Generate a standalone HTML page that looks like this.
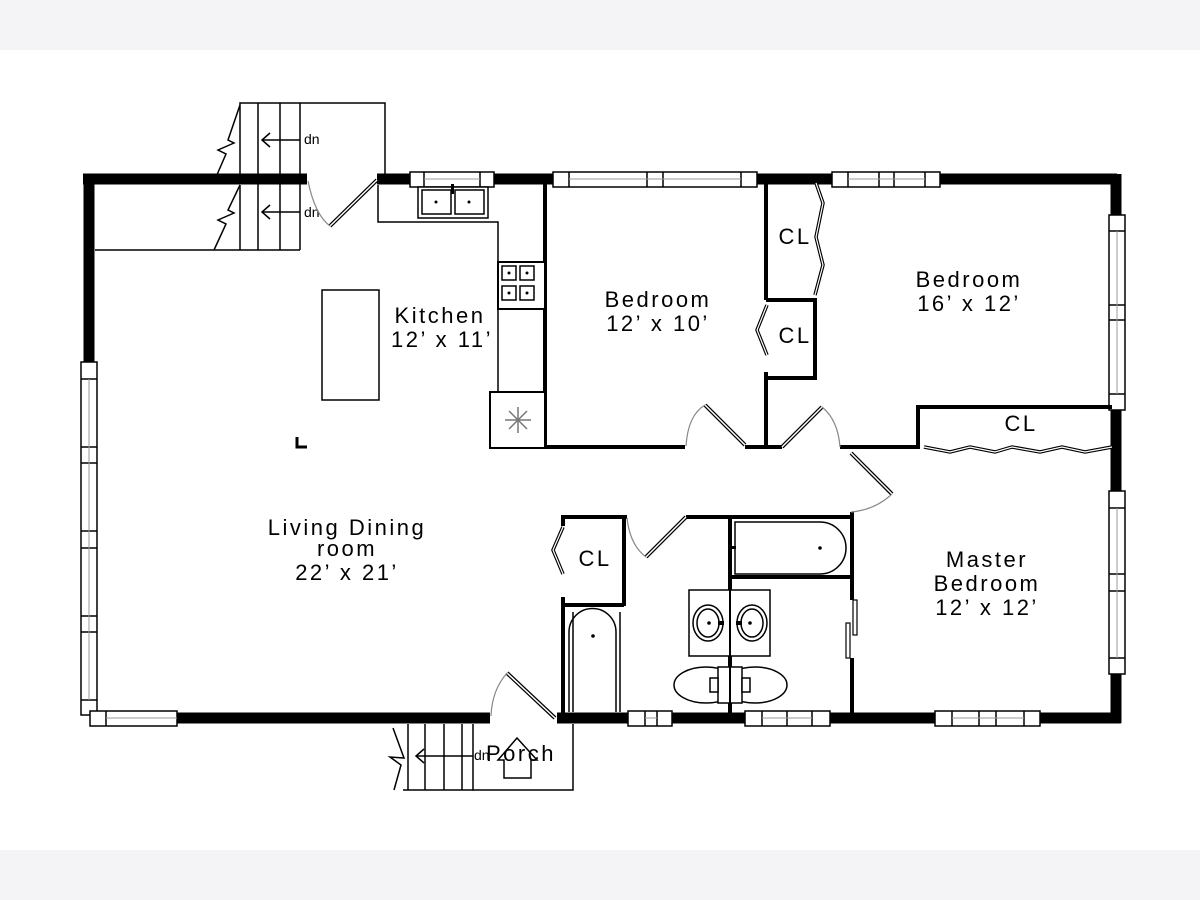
<!DOCTYPE html>
<html><head><meta charset="utf-8"><style>
html,body{margin:0;padding:0;width:1200px;height:900px;overflow:hidden;background:#fff}
svg{display:block}
text{font-family:"Liberation Sans","DejaVu Sans",sans-serif;fill:#000}
.lbl{font-size:22px;letter-spacing:2.5px}
</style></head><body>
<svg width="1200" height="900" viewBox="0 0 1200 900" xmlns="http://www.w3.org/2000/svg">
<rect x="0" y="0" width="1200" height="50" fill="#f4f4f6"/>
<rect x="0" y="850" width="1200" height="50" fill="#f4f4f6"/>

<g stroke="#000" stroke-width="11" fill="none" stroke-linecap="butt">
<line x1="83" y1="179" x2="307" y2="179"/>
<line x1="377" y1="179" x2="410" y2="179"/>
<line x1="494" y1="179" x2="553" y2="179"/>
<line x1="757" y1="179" x2="832" y2="179"/>
<line x1="940" y1="179" x2="1117" y2="179"/>
<line x1="1116" y1="174" x2="1116" y2="215"/>
<line x1="1116" y1="410" x2="1116" y2="491"/>
<line x1="1116" y1="674" x2="1116" y2="723"/>
<line x1="89" y1="174" x2="89" y2="362"/>
<line x1="177" y1="718" x2="490" y2="718"/>
<line x1="557" y1="718" x2="628" y2="718"/>
<line x1="672" y1="718" x2="745" y2="718"/>
<line x1="830" y1="718" x2="935" y2="718"/>
<line x1="1040" y1="718" x2="1121" y2="718"/>
</g>

<g stroke="#000" stroke-width="1.5" fill="#fff">
<rect x="410" y="172" width="84" height="15"/>
<line x1="424" y1="172" x2="424" y2="187"/><line x1="480" y1="172" x2="480" y2="187"/>
<rect x="553" y="172" width="204" height="15"/>
<line x1="569" y1="172" x2="569" y2="187"/><line x1="647" y1="172" x2="647" y2="187"/><line x1="663" y1="172" x2="663" y2="187"/><line x1="741" y1="172" x2="741" y2="187"/>
<rect x="832" y="172" width="108" height="15"/>
<line x1="848" y1="172" x2="848" y2="187"/><line x1="879" y1="172" x2="879" y2="187"/><line x1="894" y1="172" x2="894" y2="187"/><line x1="925" y1="172" x2="925" y2="187"/>
<rect x="1109" y="215" width="16" height="195"/>
<line x1="1109" y1="231" x2="1125" y2="231"/><line x1="1109" y1="305" x2="1125" y2="305"/><line x1="1109" y1="320" x2="1125" y2="320"/><line x1="1109" y1="394" x2="1125" y2="394"/>
<rect x="1109" y="491" width="16" height="183"/>
<line x1="1109" y1="508" x2="1125" y2="508"/><line x1="1109" y1="574" x2="1125" y2="574"/><line x1="1109" y1="591" x2="1125" y2="591"/><line x1="1109" y1="658" x2="1125" y2="658"/>
<rect x="81" y="362" width="16" height="353"/>
<line x1="81" y1="379" x2="97" y2="379"/><line x1="81" y1="447" x2="97" y2="447"/><line x1="81" y1="463" x2="97" y2="463"/><line x1="81" y1="531" x2="97" y2="531"/><line x1="81" y1="548" x2="97" y2="548"/><line x1="81" y1="616" x2="97" y2="616"/><line x1="81" y1="632" x2="97" y2="632"/><line x1="81" y1="700" x2="97" y2="700"/>
<rect x="90" y="711" width="87" height="15"/>
<line x1="106" y1="711" x2="106" y2="726"/>
<rect x="628" y="711" width="44" height="15"/>
<line x1="645" y1="711" x2="645" y2="726"/><line x1="657" y1="711" x2="657" y2="726"/>
<rect x="745" y="711" width="85" height="15"/>
<line x1="762" y1="711" x2="762" y2="726"/><line x1="787" y1="711" x2="787" y2="726"/><line x1="812" y1="711" x2="812" y2="726"/>
<rect x="935" y="711" width="105" height="15"/>
<line x1="952" y1="711" x2="952" y2="726"/><line x1="979" y1="711" x2="979" y2="726"/><line x1="996" y1="711" x2="996" y2="726"/><line x1="1024" y1="711" x2="1024" y2="726"/>
</g>
<g stroke="#999" stroke-width="1">
<line x1="424" y1="179" x2="480" y2="179"/><line x1="569" y1="179" x2="741" y2="179"/><line x1="848" y1="179" x2="925" y2="179"/>
<line x1="1117" y1="231" x2="1117" y2="394"/><line x1="1117" y1="508" x2="1117" y2="658"/>
<line x1="89" y1="379" x2="89" y2="700"/><line x1="106" y1="718" x2="177" y2="718"/>
<line x1="645" y1="718" x2="657" y2="718"/><line x1="762" y1="718" x2="812" y2="718"/><line x1="952" y1="718" x2="1024" y2="718"/>
</g>

<g stroke="#000" stroke-width="4" fill="none">
<line x1="545" y1="184" x2="545" y2="449"/>
<line x1="490" y1="447" x2="685" y2="447"/>
<line x1="745" y1="447" x2="782" y2="447"/>
<line x1="840" y1="447" x2="920" y2="447"/>
<line x1="766" y1="184" x2="766" y2="300"/>
<line x1="766" y1="300" x2="815" y2="300"/>
<line x1="815" y1="298" x2="815" y2="380"/>
<line x1="766" y1="378" x2="815" y2="378"/>
<line x1="766" y1="372" x2="766" y2="447"/>
<polyline points="918,447 918,407 1112,407"/>
<line x1="563" y1="517" x2="627" y2="517"/>
<line x1="686" y1="517" x2="852" y2="517"/>
<line x1="624" y1="517" x2="624" y2="606"/>
<line x1="563" y1="605" x2="624" y2="605"/>
<line x1="563" y1="515" x2="563" y2="526"/>
<line x1="563" y1="597" x2="563" y2="714"/>
<line x1="730" y1="517" x2="730" y2="714"/>
<line x1="730" y1="577" x2="852" y2="577"/>
<line x1="852" y1="512" x2="852" y2="600"/>
<line x1="852" y1="658" x2="852" y2="714"/>
<line x1="573" y1="612" x2="573" y2="712" stroke-width="1.5"/>
<line x1="620" y1="612" x2="620" y2="712" stroke-width="1.5"/>
</g>

<g stroke="#000" stroke-width="1.5" fill="#fff">
<polyline points="378,185 378,222 498,222 498,392" fill="none"/>
<rect x="418" y="187" width="70" height="31"/>
<rect x="422" y="190" width="29" height="24"/><rect x="455" y="190" width="29" height="24"/>
<rect x="498" y="262" width="47" height="47" stroke-width="2"/>
<rect x="502" y="266" width="14" height="14"/><rect x="520" y="266" width="14" height="14"/>
<rect x="502" y="286" width="14" height="14"/><rect x="520" y="286" width="14" height="14"/>
<rect x="490" y="392" width="55" height="56" stroke-width="2"/>
<rect x="322" y="290" width="57" height="110"/>
</g>
<g fill="#000"><circle cx="436" cy="202" r="1.5"/><circle cx="469" cy="202" r="1.5"/><circle cx="509" cy="273" r="1.5"/><circle cx="527" cy="273" r="1.5"/><circle cx="509" cy="293" r="1.5"/><circle cx="527" cy="293" r="1.5"/>
<rect x="451" y="184" width="3" height="10"/></g>
<g stroke="#777" stroke-width="1.5"><line x1="505" y1="420" x2="531" y2="420"/><line x1="518" y1="407" x2="518" y2="433"/><line x1="509" y1="411" x2="527" y2="429"/><line x1="527" y1="411" x2="509" y2="429"/></g>
<path d="M297 437 V447 H307" stroke="#000" stroke-width="3" fill="none"/>

<g stroke="#000" stroke-width="1.5" fill="none">
<polyline points="240,174 240,103 385,103 385,175"/>
<line x1="258" y1="103" x2="258" y2="250"/><line x1="280" y1="103" x2="280" y2="250"/><line x1="300" y1="103" x2="300" y2="250"/>
<line x1="240" y1="185" x2="240" y2="250"/>
<line x1="95" y1="250" x2="300" y2="250"/>
<polyline points="240,105 228,140 234,143 218,150 226,154 216,177"/>
<polyline points="240,185 228,210 234,213 218,220 226,224 214,250"/>
<line x1="263" y1="140" x2="300" y2="140"/><polyline points="270,133 262,140 270,147"/>
<line x1="263" y1="212" x2="300" y2="212"/><polyline points="270,205 262,212 270,219"/>
</g>
<text x="304" y="144" font-size="14">dn</text>
<text x="304" y="217" font-size="14">dn</text>
<line x1="377" y1="180" x2="330" y2="226" stroke="#000" stroke-width="4"/>
<line x1="377" y1="180" x2="330" y2="226" stroke="#fff" stroke-width="1.5"/>
<path d="M308 181 Q315 215 330 226" stroke="#888" stroke-width="1.2" fill="none"/>

<g stroke="#000" stroke-width="4">
<line x1="705" y1="405" x2="745" y2="445"/>
<line x1="782" y1="447" x2="822" y2="407"/>
<line x1="851" y1="453" x2="892" y2="494"/>
<line x1="646" y1="557" x2="686" y2="517"/>
<line x1="507" y1="673" x2="555" y2="718"/>
</g>
<g stroke="#fff" stroke-width="1.5">
<line x1="705" y1="405" x2="745" y2="445"/>
<line x1="782" y1="447" x2="822" y2="407"/>
<line x1="851" y1="453" x2="892" y2="494"/>
<line x1="646" y1="557" x2="686" y2="517"/>
<line x1="507" y1="673" x2="555" y2="718"/>
</g>
<g stroke="#888" stroke-width="1.2" fill="none">
<path d="M705 405 Q688 415 686 446"/>
<path d="M822 407 Q838 420 840 447"/>
<path d="M892 494 Q875 510 851 512"/>
<path d="M627 518 Q630 545 646 557"/>
<path d="M507 673 Q492 690 491 716"/>
</g>

<g stroke="#000" stroke-width="3.5" fill="none" stroke-linejoin="miter">
<polyline points="816,183 823,203 816,237 823,265 815,295"/>
<polyline points="767,305 757,330 767,355"/>
<polyline points="563,527 553,550 563,574"/>
<polyline points="924,447 950,452 970,447 995,452 1012,447 1040,452 1062,447 1085,452 1112,447"/>
</g>
<g stroke="#fff" stroke-width="1.2" fill="none">
<polyline points="816,183 823,203 816,237 823,265 815,295"/>
<polyline points="767,305 757,330 767,355"/>
<polyline points="563,527 553,550 563,574"/>
<polyline points="924,447 950,452 970,447 995,452 1012,447 1040,452 1062,447 1085,452 1112,447"/>
</g>
<g stroke="#000" stroke-width="1.2" fill="#fff">
<rect x="853" y="600" width="4" height="35"/><rect x="846" y="623" width="4" height="35"/>
</g>

<g stroke="#000" stroke-width="1.5" fill="#fff">
<path d="M735 522 H820 A26 26 0 0 1 820 574 H735 Z"/>
<path d="M569 712 V632 A23 23 0 0 1 616 632 V712" fill="none"/>
<rect x="689" y="590" width="41" height="66"/><rect x="730" y="590" width="40" height="66"/>
<ellipse cx="708" cy="623" rx="15" ry="18"/><ellipse cx="708" cy="623" rx="11" ry="14"/>
<ellipse cx="752" cy="623" rx="15" ry="18"/><ellipse cx="752" cy="623" rx="11" ry="14"/>
<ellipse cx="706" cy="685" rx="32" ry="18"/><ellipse cx="755" cy="685" rx="32" ry="18"/>
<rect x="718" y="667" width="24" height="36"/>
<rect x="710" y="678" width="8" height="14"/><rect x="742" y="678" width="8" height="14"/>
</g>
<line x1="730" y1="590" x2="730" y2="703" stroke="#000" stroke-width="2"/>
<g fill="#000"><circle cx="820" cy="548" r="1.8"/><circle cx="593" cy="636" r="1.8"/><circle cx="709" cy="623" r="1.8"/><circle cx="750" cy="623" r="1.8"/>
<rect x="718" y="621" width="6" height="4"/><rect x="736" y="621" width="6" height="4"/><rect x="730" y="546" width="6" height="3"/></g>

<g stroke="#000" stroke-width="1.5" fill="none">
<polyline points="473,724 473,790 573,790 573,724"/>
<line x1="403" y1="790" x2="473" y2="790"/>
<line x1="408" y1="724" x2="408" y2="790"/><line x1="425" y1="724" x2="425" y2="790"/><line x1="444" y1="724" x2="444" y2="790"/><line x1="462" y1="724" x2="462" y2="790"/>
<polyline points="394,790 401,765 390,757 404,758 393,728"/>
<line x1="416" y1="756" x2="473" y2="756"/><polyline points="424,749 416,756 424,763"/>
<path d="M504 778 V760 H498 L517 738 L537 760 H531 V778 Z"/>
</g>
<text x="474" y="760" font-size="14">dn</text>
<text x="486" y="761" class="lbl" letter-spacing="1.5">Porch</text>

<g class="lbl" text-anchor="middle">
<text x="440" y="323">Kitchen</text><text x="442" y="347">12’ x 11’</text>
<text x="658" y="307">Bedroom</text><text x="658" y="331">12’ x 10’</text>
<text x="969" y="287">Bedroom</text><text x="969" y="311">16’ x 12’</text>
<text x="347" y="535">Living Dining</text><text x="347" y="556">room</text><text x="347" y="580">22’ x 21’</text>
<text x="987" y="567">Master</text><text x="987" y="591">Bedroom</text><text x="987" y="615">12’ x 12’</text>
<text x="795" y="244">CL</text><text x="795" y="343">CL</text><text x="1021" y="431">CL</text><text x="595" y="566">CL</text>
</g>
</svg>
</body></html>
